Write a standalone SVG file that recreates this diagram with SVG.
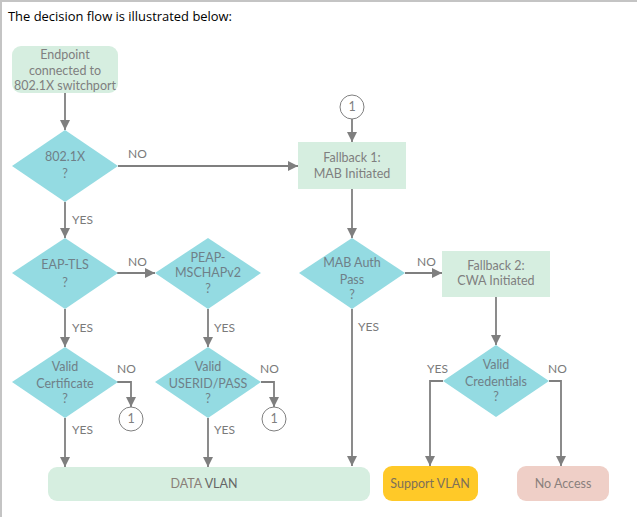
<svg xmlns="http://www.w3.org/2000/svg" width="637" height="517" viewBox="0 0 637 517">
<defs>
<marker id="ah" markerUnits="userSpaceOnUse" markerWidth="10" markerHeight="10" refX="10" refY="5" orient="auto">
<path d="M0,0 L10,5 L0,10 z" fill="#7f7f7f"/>
</marker>
<style>
.t{font-family:Lato,"Open Sans","Liberation Sans",sans-serif;font-size:12.5px;fill:#7f7f7f;text-anchor:middle}
.d{fill:#6f8088}
.lbl{font-family:Lato,"Open Sans","Liberation Sans",sans-serif;font-size:12px;fill:#7a7a7a}
.g{fill:#d6eee0}
.dia{fill:#94dbe2}
.c{stroke:#7f7f7f;stroke-width:1.8;fill:none;marker-end:url(#ah)}
.circ{fill:#fff;stroke:#7f7f7f;stroke-width:1}
</style>
</defs>
<rect x="0" y="0" width="637" height="517" fill="#fff"/>
<rect x="0" y="0" width="637" height="2" fill="#c4c4c4"/>
<rect x="0" y="0" width="2" height="517" fill="#c4c4c4"/>
<text x="8" y="21" font-family="'Open Sans','Liberation Sans',sans-serif" font-size="13" fill="#000" textLength="224" lengthAdjust="spacingAndGlyphs">The decision flow is illustrated below:</text>

<g id="connectors">
<path class="c" d="M65,93 V130"/>
<path class="c" d="M118,166 H298"/>
<path class="c" d="M352,119 V142"/>
<path class="c" d="M65,202 V238"/>
<path class="c" d="M117,273 H155"/>
<path class="c" d="M65,309 V347"/>
<path class="c" d="M208,309 V347"/>
<path class="c" d="M117,382 H131 V407"/>
<path class="c" d="M261,382 H274 V407"/>
<path class="c" d="M65,418 V467"/>
<path class="c" d="M208,418 V467"/>
<path class="c" d="M352,189 V238"/>
<path class="c" d="M405,273 H442"/>
<path class="c" d="M352,309 V466"/>
<path class="c" d="M496,297 V345"/>
<path class="c" d="M443,381 H430 V466"/>
<path class="c" d="M549,381 H561 V466"/>
<text class="lbl" x="128" y="158">NO</text>
<text class="lbl" x="72" y="224">YES</text>
<text class="lbl" x="128" y="266">NO</text>
<text class="lbl" x="72" y="332">YES</text>
<text class="lbl" x="214" y="332">YES</text>
<text class="lbl" x="117" y="373">NO</text>
<text class="lbl" x="260" y="373">NO</text>
<text class="lbl" x="72" y="434">YES</text>
<text class="lbl" x="214" y="434">YES</text>
<text class="lbl" x="417" y="266">NO</text>
<text class="lbl" x="358" y="331">YES</text>
<text class="lbl" x="427" y="373">YES</text>
<text class="lbl" x="548" y="373">NO</text>
</g>

<g id="start">
<rect class="g" x="12" y="46" width="106" height="47" rx="9"/>
<text class="t" x="65" y="59">Endpoint</text>
<text class="t" x="65" y="75">connected to</text>
<text class="t" x="65" y="90">802.1X switchport</text>
</g>

<g id="d8021x">
<polygon class="dia" points="12,166 65,130 118,166 65,202"/>
<text class="t d" x="65" y="161">802.1X</text>
<text class="t d" x="65" y="178">?</text>
</g>

<g id="deaptls">
<polygon class="dia" points="12,273 65,238 118,273 65,309"/>
<text class="t d" x="65" y="269">EAP-TLS</text>
<text class="t d" x="65" y="287">?</text>
</g>

<g id="dpeap">
<polygon class="dia" points="155,273 208,238 261,273 208,309"/>
<text class="t d" x="208" y="262">PEAP-</text>
<text class="t d" x="208" y="277">MSCHAPv2</text>
<text class="t d" x="208" y="293">?</text>
</g>

<g id="dcert">
<polygon class="dia" points="12,382 65,347 118,382 65,418"/>
<text class="t d" x="65" y="371">Valid</text>
<text class="t d" x="65" y="388">Certificate</text>
<text class="t d" x="65" y="403">?</text>
</g>

<g id="duser">
<polygon class="dia" points="155,382 208,347 261,382 208,418"/>
<text class="t d" x="208" y="371">Valid</text>
<text class="t d" x="208" y="388">USERID/PASS</text>
<text class="t d" x="208" y="403">?</text>
</g>

<g id="c1a">
<circle class="circ" cx="131" cy="419" r="12"/>
<text class="t" x="131" y="423">1</text>
</g>
<g id="c1b">
<circle class="circ" cx="274" cy="419" r="12"/>
<text class="t" x="274" y="423">1</text>
</g>
<g id="c1top">
<circle class="circ" cx="352" cy="107" r="12"/>
<text class="t" x="352" y="111">1</text>
</g>

<g id="fb1">
<rect class="g" x="298" y="142" width="108" height="47"/>
<text class="t" x="352" y="162">Fallback 1:</text>
<text class="t" x="352" y="178">MAB Initiated</text>
</g>

<g id="dmab">
<polygon class="dia" points="299,273 352,238 405,273 352,309"/>
<text class="t d" x="352" y="267">MAB Auth</text>
<text class="t d" x="352" y="284">Pass</text>
<text class="t d" x="352" y="299">?</text>
</g>

<g id="fb2">
<rect class="g" x="442" y="251" width="108" height="46"/>
<text class="t" x="496" y="270">Fallback 2:</text>
<text class="t" x="496" y="285">CWA Initiated</text>
</g>

<g id="dcred">
<polygon class="dia" points="443,381 496,345 549,381 496,417"/>
<text class="t d" x="496" y="369">Valid</text>
<text class="t d" x="496" y="386">Credentials</text>
<text class="t d" x="496" y="401">?</text>
</g>

<g id="datavlan">
<rect class="g" x="48" y="467" width="322" height="34" rx="9"/>
<text class="t" x="204" y="488"><tspan fill="#8a8078">DATA</tspan> <tspan fill="#666">VLAN</tspan></text>
</g>

<g id="supportvlan">
<rect x="383" y="466" width="95" height="35" rx="9" fill="#ffc928"/>
<text class="t" x="430" y="488" style="fill:#7d705a">Support VLAN</text>
</g>

<g id="noaccess">
<rect x="517" y="466" width="92" height="35" rx="9" fill="#efcfc7"/>
<text class="t" x="563" y="488" style="fill:#8a7f7c">No Access</text>
</g>
</svg>
